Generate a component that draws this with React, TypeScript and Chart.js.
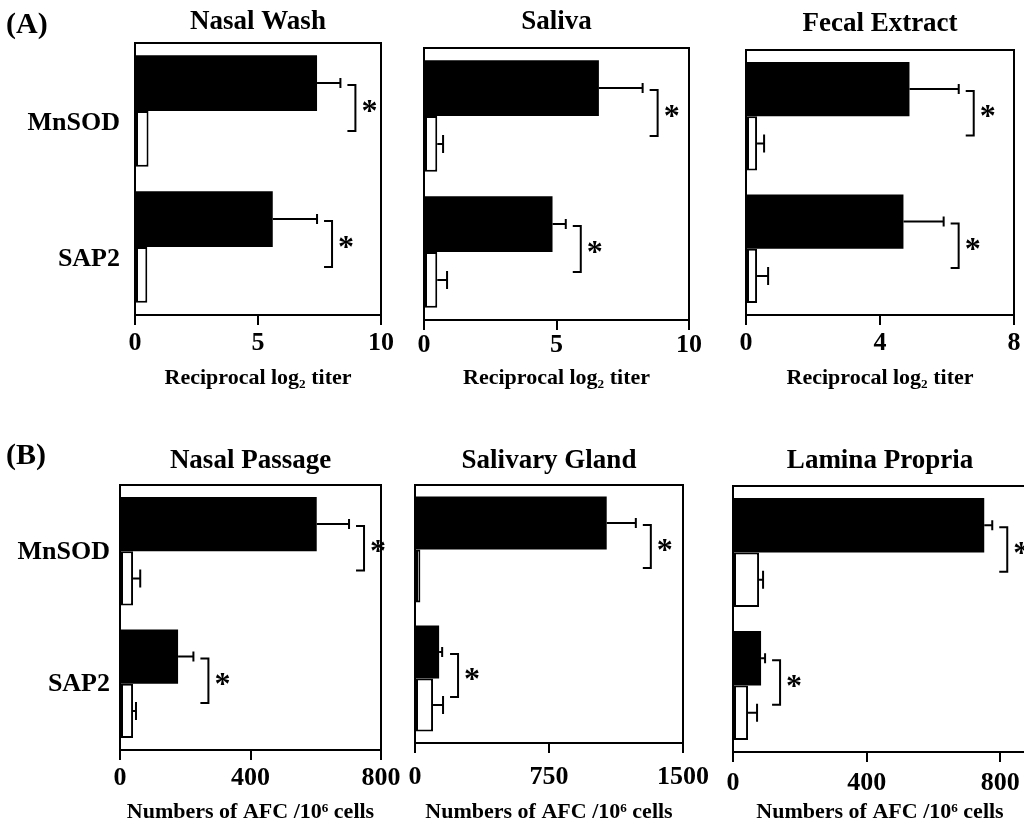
import React, { useEffect, useRef } from 'react';
import { Chart, registerables } from 'chart.js';

Chart.register(...registerables);

// ---------------- data ----------------
const categories = ['MnSOD', 'SAP2'];
const significance = ['*', '*'];
const panelTitles = ['Nasal Wash', 'Saliva', 'Fecal Extract', 'Nasal Passage', 'Salivary Gland', 'Lamina Propria'];
const axisTitleA = 'Reciprocal log₂ titer';
const axisTitleB = 'Numbers of AFC /10⁶ cells';
const sectionLabels = ['(A)', '(B)'];

const nasalWashImmunized = [7.4, 5.6];
const nasalWashImmunizedErr = [0.95, 1.8];
const nasalWashControl = [0.55, 0.5];
const nasalWashControlErr = [0, 0];

const salivaImmunized = [6.6, 4.85];
const salivaImmunizedErr = [1.65, 0.5];
const salivaControl = [0.5, 0.5];
const salivaControlErr = [0.22, 0.37];

const fecalImmunized = [4.88, 4.7];
const fecalImmunizedErr = [1.47, 1.2];
const fecalControl = [0.33, 0.33];
const fecalControlErr = [0.21, 0.33];

const nasalPassageImmunized = [603, 178];
const nasalPassageImmunizedErr = [99, 47];
const nasalPassageControl = [40, 40];
const nasalPassageControlErr = [22, 9];

const salivaryGlandImmunized = [1073, 135];
const salivaryGlandImmunizedErr = [163, 17];
const salivaryGlandControl = [30, 101];
const salivaryGlandControlErr = [0, 56];

const laminaPropriaImmunized = [752, 84];
const laminaPropriaImmunizedErr = [24, 12];
const laminaPropriaControl = [78, 45];
const laminaPropriaControlErr = [12, 27];

const ticksNasalWash = [0, 5, 10];
const ticksSaliva = [0, 5, 10];
const ticksFecal = [0, 4, 8];
const ticksNasalPassage = [0, 400, 800];
const ticksSalivaryGland = [0, 750, 1500];
const ticksLaminaPropria = [0, 400, 800];

const axisMax = [10, 10, 8, 800, 1500, 880];

// ---------------- layout ----------------
const FONT = "'Liberation Serif', 'Times New Roman', serif";
const PAD_R = 50;

const panelData = [
  { imm: nasalWashImmunized, immErr: nasalWashImmunizedErr, ctl: nasalWashControl, ctlErr: nasalWashControlErr, ticks: ticksNasalWash, axisTitle: axisTitleA },
  { imm: salivaImmunized, immErr: salivaImmunizedErr, ctl: salivaControl, ctlErr: salivaControlErr, ticks: ticksSaliva, axisTitle: axisTitleA },
  { imm: fecalImmunized, immErr: fecalImmunizedErr, ctl: fecalControl, ctlErr: fecalControlErr, ticks: ticksFecal, axisTitle: axisTitleA },
  { imm: nasalPassageImmunized, immErr: nasalPassageImmunizedErr, ctl: nasalPassageControl, ctlErr: nasalPassageControlErr, ticks: ticksNasalPassage, axisTitle: axisTitleB },
  { imm: salivaryGlandImmunized, immErr: salivaryGlandImmunizedErr, ctl: salivaryGlandControl, ctlErr: salivaryGlandControlErr, ticks: ticksSalivaryGland, axisTitle: axisTitleB },
  { imm: laminaPropriaImmunized, immErr: laminaPropriaImmunizedErr, ctl: laminaPropriaControl, ctlErr: laminaPropriaControlErr, ticks: ticksLaminaPropria, axisTitle: axisTitleB },
];

const layouts = [
  { col1: true, box: [135, 43, 381, 315], titleMid: 22, tickPad: 4, axisTitleMid: 379, labelOffset: 12, labelPad: 15 },
  { col1: false, box: [424, 48, 689, 320], titleMid: 22, tickPad: 1, axisTitleMid: 379, labelOffset: 0, labelPad: 0 },
  { col1: false, box: [746, 50, 1014, 315], titleMid: 24, tickPad: 4, axisTitleMid: 379, labelOffset: 0, labelPad: 0 },
  { col1: true, box: [120, 485, 381, 750], titleMid: 461, tickPad: 4, axisTitleMid: 813, labelOffset: 1, labelPad: 10 },
  { col1: false, box: [415, 485, 683, 743], titleMid: 461, tickPad: 10, axisTitleMid: 813, labelOffset: 0, labelPad: 0 },
  { col1: false, box: [733, 486, 1027, 752], titleMid: 461, tickPad: 7, axisTitleMid: 813, labelOffset: 0, labelPad: 0 },
];

const decorPlugin = {
  id: 'decor',
  afterDatasetsDraw(chart: any) {
    const { ctx, chartArea: a, scales } = chart;
    const xs = scales.x;
    ctx.save();
    ctx.strokeStyle = '#000';
    ctx.fillStyle = '#000';
    ctx.lineWidth = 2;
    ctx.strokeRect(a.left, a.top, a.right - a.left, a.bottom - a.top);
    const metas = [chart.getDatasetMeta(0), chart.getDatasetMeta(1)];
    const capHalf = [5, 9];
    chart.data.datasets.forEach((ds: any, di: number) => {
      metas[di].data.forEach((bar: any, j: number) => {
        const e = ds.errors[j];
        if (!e) return;
        const v = ds.data[j];
        const x0 = xs.getPixelForValue(v);
        const x1 = xs.getPixelForValue(v + e);
        ctx.beginPath();
        ctx.moveTo(x0, bar.y);
        ctx.lineTo(x1, bar.y);
        ctx.moveTo(x1, bar.y - capHalf[di]);
        ctx.lineTo(x1, bar.y + capHalf[di]);
        ctx.stroke();
      });
    });
    const d0 = chart.data.datasets[0];
    const d1 = chart.data.datasets[1];
    categories.forEach((_, j) => {
      const end = Math.max(
        xs.getPixelForValue(d0.data[j] + d0.errors[j]),
        xs.getPixelForValue(d1.data[j] + d1.errors[j])
      );
      const bx = end + 15;
      const yTop = metas[0].data[j].y + 2;
      const yBot = metas[1].data[j].y - 8;
      ctx.beginPath();
      ctx.moveTo(bx - 8, yTop);
      ctx.lineTo(bx, yTop);
      ctx.lineTo(bx, yBot);
      ctx.lineTo(bx - 8, yBot);
      ctx.stroke();
      ctx.font = `bold 32px ${FONT}`;
      ctx.textAlign = 'center';
      ctx.textBaseline = 'alphabetic';
      ctx.fillText(significance[j], bx + 14, (yTop + yBot) / 2 - 2 + 15);
    });
    ctx.restore();
  },
};

function Panel({ idx }: { idx: number }) {
  const ref = useRef<HTMLCanvasElement>(null);
  const L = layouts[idx];
  const D = panelData[idx];
  const [bl, bt, br, bb] = L.box;
  const titleSize = 27;
  const titleLH = Math.round(titleSize * 1.2);
  const cy = Math.round(L.titleMid - titleLH / 2);
  const cx = L.col1 ? 0 : bl - 20;
  const padL = L.col1 ? 0 : 20;
  const w = br + PAD_R - cx;
  const axisTitleSize = 22;
  const xH = Math.round(L.axisTitleMid - bb + (axisTitleSize * 1.2) / 2);
  const h = bb + xH - cy;
  const titlePadBottom = bt - cy - titleSize * 1.2;

  useEffect(() => {
    const yScale: any = {
      type: 'category',
      display: L.col1,
      grid: { display: false, drawTicks: false },
      border: { display: false },
      ticks: {
        color: '#000',
        font: { family: FONT, size: 26, weight: 'bold' },
        padding: L.labelPad,
        labelOffset: L.labelOffset,
      },
    };
    if (L.col1) {
      yScale.afterFit = (s: any) => { s.width = bl - cx - padL; };
    }
    const chart = new Chart(ref.current as HTMLCanvasElement, {
      type: 'bar',
      data: {
        labels: categories,
        datasets: [
          {
            label: 'Immunized',
            data: D.imm,
            errors: D.immErr,
            backgroundColor: '#000',
            borderColor: '#000',
            borderWidth: 0,
          } as any,
          {
            label: 'Control',
            data: D.ctl,
            errors: D.ctlErr,
            backgroundColor: '#fff',
            borderColor: '#000',
            borderWidth: 2,
            borderSkipped: false,
          } as any,
        ],
      },
      options: {
        indexAxis: 'y',
        responsive: false,
        animation: false,
        devicePixelRatio: 1,
        events: [],
        layout: { padding: { left: padL, right: PAD_R, top: 0, bottom: 0 } },
        datasets: { bar: { barPercentage: 1, categoryPercentage: 0.82 } },
        scales: {
          x: {
            type: 'linear',
            min: 0,
            max: axisMax[idx],
            afterBuildTicks: (s: any) => { s.ticks = D.ticks.map((v) => ({ value: v })); },
            afterFit: (s: any) => { s.height = xH; },
            grid: { display: true, drawOnChartArea: false, drawTicks: true, tickLength: 10, color: '#000', lineWidth: 2 },
            border: { display: false },
            ticks: {
              color: '#000',
              font: { family: FONT, size: 26, weight: 'bold' },
              padding: L.tickPad - 1,
              maxRotation: 0,
              autoSkip: false,
              callback: (v: any) => String(v),
            },
            title: {
              display: true,
              text: D.axisTitle,
              color: '#000',
              font: { family: FONT, size: axisTitleSize, weight: 'bold' },
              padding: { top: 0, bottom: 0 },
            },
          },
          y: yScale,
        },
        plugins: {
          legend: { display: false },
          tooltip: { enabled: false },
          title: {
            display: true,
            text: panelTitles[idx],
            fullSize: false,
            color: '#000',
            font: { family: FONT, size: titleSize, weight: 'bold' },
            padding: { top: 0, bottom: titlePadBottom },
          },
        },
      } as any,
      plugins: [decorPlugin],
    });
    return () => chart.destroy();
  }, []);

  return (
    <canvas
      ref={ref}
      width={w}
      height={h}
      style={{ position: 'absolute', left: cx, top: cy, width: w, height: h }}
    />
  );
}

export default function App() {
  return (
    <div
      style={{
        position: 'absolute',
        left: 0,
        top: 0,
        width: 1024,
        height: 832,
        overflow: 'hidden',
        background: '#fff',
      }}
    >
      {[0, 1, 2, 3, 4, 5].map((i) => (
        <Panel key={i} idx={i} />
      ))}
      <div style={{ position: 'absolute', left: 6, top: 8, font: `bold 30px/30px ${FONT}`, color: '#000' }}>
        {sectionLabels[0]}
      </div>
      <div style={{ position: 'absolute', left: 6, top: 439, font: `bold 30px/30px ${FONT}`, color: '#000' }}>
        {sectionLabels[1]}
      </div>
    </div>
  );
}
